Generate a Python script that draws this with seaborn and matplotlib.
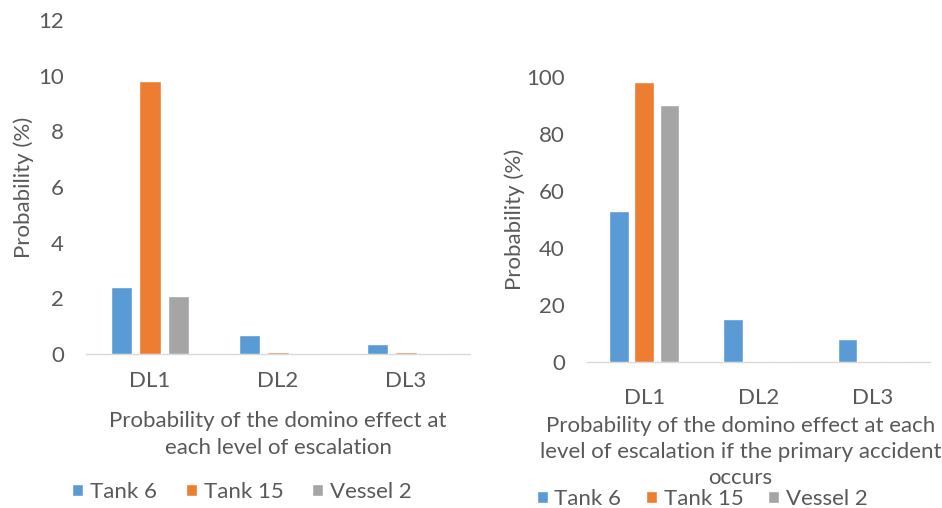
import matplotlib
matplotlib.use("Agg")
import matplotlib.pyplot as plt
import seaborn as sns
import pandas as pd

# Escalation levels and series
levels = ["DL1", "DL2", "DL3"]
series = ["Tank 6", "Tank 15", "Vessel 2"]

# Probability of domino effect at each escalation level (%)
overall_tank6 = [2.4, 0.7, 0.35]
overall_tank15 = [9.8, 0.06, 0.06]
overall_vessel2 = [2.1, 0.0, 0.0]

# Probability given the primary accident occurs (%)
cond_tank6 = [53, 15, 8]
cond_tank15 = [98, 0, 0]
cond_vessel2 = [90, 0, 0]

colors = ["#5B9BD5", "#ED7D31", "#A5A5A5"]
text_color = "#595959"
FS = 16

sns.set_theme(style="white")
plt.rcParams["font.family"] = ["Lato", "DejaVu Sans"]
plt.rcParams["text.color"] = text_color
plt.rcParams["axes.labelcolor"] = text_color
plt.rcParams["xtick.color"] = text_color
plt.rcParams["ytick.color"] = text_color


def long_frame(a, b, c):
    rows = []
    for name, vals in zip(series, (a, b, c)):
        for lvl, v in zip(levels, vals):
            rows.append({"level": lvl, "series": name, "prob": v})
    return pd.DataFrame(rows)


W, H = 942, 508
fig = plt.figure(figsize=(W / 100, H / 100), dpi=100)
fig.patch.set_facecolor("white")

ax1 = fig.add_axes([86 / W, (H - 354) / H, 384 / W, 334 / H])
ax2 = fig.add_axes([587 / W, (H - 361.7) / H, 343 / W, 285 / H])


def draw(ax, df, ymax, ystep, xlabel, label_x, label_y, spacing, tick_pad,
         ypad, legend_y, legend_x, colspace):
    sns.barplot(data=df, x="level", y="prob", hue="series", order=levels,
                hue_order=series, palette=colors, width=0.668, gap=0.23,
                saturation=1, ax=ax, legend=True, zorder=3)
    ax.set_ylim(0, ymax)
    ax.set_xlim(-0.5, 2.5)
    ax.set_yticks(range(0, ymax + 1, ystep))
    for s in ["top", "right", "left"]:
        ax.spines[s].set_visible(False)
    ax.spines["bottom"].set_color("#D9D9D9")
    ax.spines["bottom"].set_linewidth(1.0)
    ax.spines["bottom"].set_zorder(1)
    ax.tick_params(axis="both", length=0, labelsize=FS)
    ax.tick_params(axis="x", pad=tick_pad)
    ax.tick_params(axis="y", pad=16)
    ax.set_ylabel("Probability (%)", fontsize=FS, labelpad=ypad)
    ax.set_xlabel(xlabel, fontsize=FS, linespacing=spacing)
    ax.xaxis.set_label_coords(label_x, label_y)
    ax.xaxis.label.set_va("top")
    handles, labels = ax.get_legend_handles_labels()
    ax.get_legend().remove()
    ax.legend(handles, labels, loc="center", bbox_to_anchor=(legend_x, legend_y),
              bbox_transform=fig.transFigure, ncol=3, frameon=False,
              fontsize=FS, handlelength=0.5, handleheight=0.5,
              handletextpad=0.3, columnspacing=colspace, labelcolor=text_color,
              borderpad=0.1)


draw(ax1, long_frame(overall_tank6, overall_tank15, overall_vessel2), 12, 2,
     "Probability of the domino effect at\neach level of escalation",
     0.5, -0.171, 1.46, 12, 3, (H - 492) / H, 242 / W, 1.3)
draw(ax2, long_frame(cond_tank6, cond_tank15, cond_vessel2), 100, 20,
     "Probability of the domino effect at each\nlevel of escalation if the primary accident\noccurs",
     0.447, -0.189, 1.38, 19, 1, (H - 499) / H, 702 / W, 1.1)

fig.savefig("out.png", dpi=100, facecolor="white")
